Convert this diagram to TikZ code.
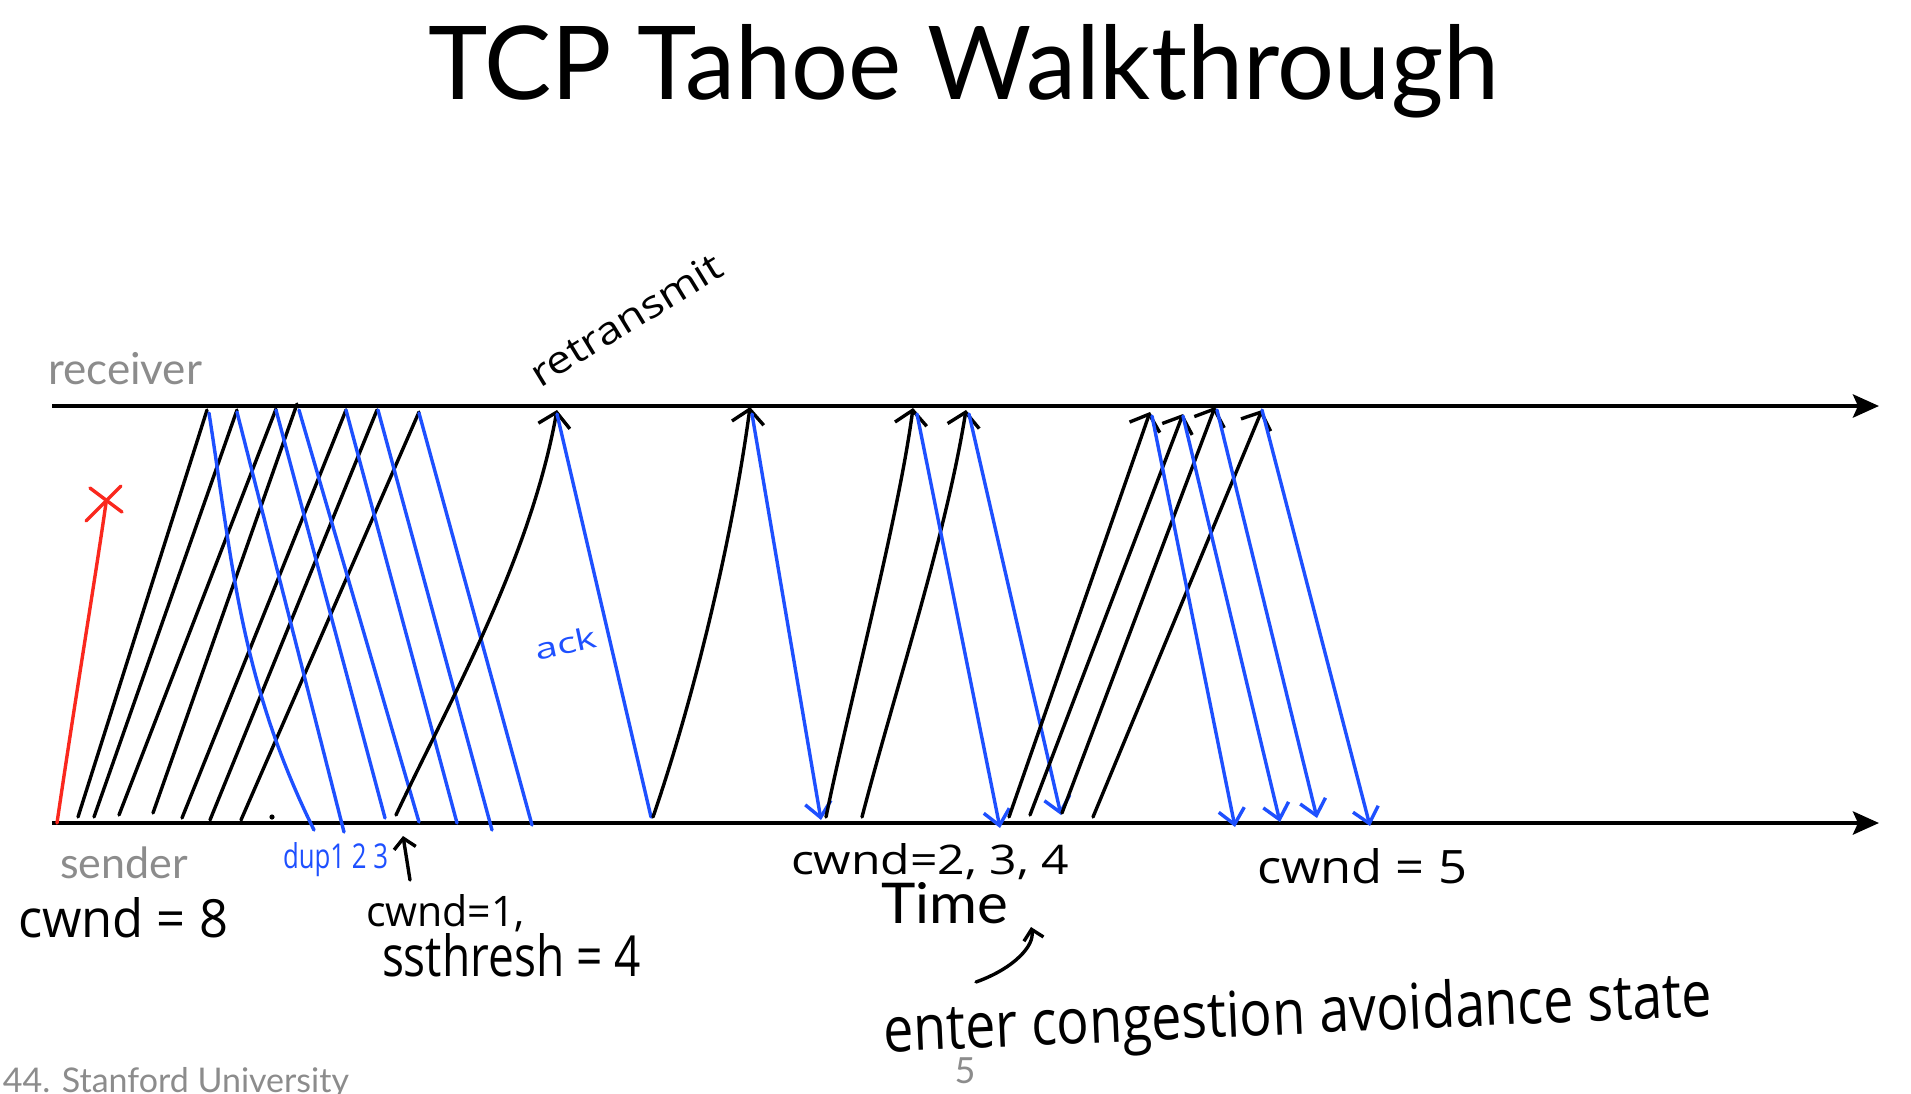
\documentclass[tikz,border=0pt]{standalone}
\usepackage{fontspec}
\setmainfont{Lato}
\newfontfamily\hwfont{Open Sans}
\usepackage{graphicx}
\usetikzlibrary{arrows.meta}
\definecolor{hblue}{RGB}{30,80,255}
\definecolor{hred}{RGB}{250,40,30}
\definecolor{slgray}{RGB}{140,140,140}
\newcommand{\fitbox}[3]{\resizebox{#1pt}{#2pt}{#3}}
\begin{document}
\begin{tikzpicture}[x=1pt,y=-1pt,
  hand/.style={line width=3.4pt, line cap=round, line join=round},
  pkt/.style={hand, black},
  ackl/.style={hand, hblue},
  upa/.style={-{Straight Barb[length=14pt,width=32pt]}},
  dna/.style={-{Straight Barb[length=15pt,width=26pt]}},
  axis/.style={line width=4.6pt, -{Stealth[length=26pt,width=23pt,inset=5pt]}},
  lbl/.style={inner sep=0pt, outer sep=0pt, anchor=base west},
  hw/.style={lbl, font=\hwfont},
  slide/.style={lbl, text=slgray}]
\useasboundingbox (0,0) rectangle (1911,1093);
\fill[white] (0,0) rectangle (1911,1093);
\begin{scope}
\clip (0,0) rectangle (1911,1093);

% title
\node[lbl] (title) at (428,99) {\fitbox{1070}{75}{TCP Tahoe Walkthrough}};

% axes
\coordinate (rl) at (52,406); \coordinate (rr) at (1879,406);
\coordinate (sl) at (52,823); \coordinate (sr) at (1879,823);
\draw[axis] (rl) -- (rr);
\draw[axis] (sl) -- (sr);

\node[slide, font=\fontsize{44}{44}\selectfont] (recv) at (48,384) {receiver};
\node[slide, font=\fontsize{43}{43}\selectfont] (send) at (60,878) {sender};
\node[lbl, font=\fontsize{57}{57}\selectfont] (time) at (881,923) {\fitbox{127}{41}{Time}};
\node[slide, font=\fontsize{36}{36}\selectfont, anchor=base] (pnum) at (965,1083) {5};
\node[slide, anchor=base east, font=\fontsize{34}{34}\selectfont] (foot) at (349,1092) {44. Stanford University};

% lost packet
\coordinate (red0) at (57,823); \coordinate (redx) at (106,503);
\draw[hand, hred] (red0) .. controls (75,700) and (95,580) .. (redx);
\draw[hand, hred] (90,488) -- (122,512);
\draw[hand, hred] (121,486) -- (86,521);

% first burst of data
\foreach \i/\sx/\sy/\rx/\ry in {1/78/817/207/410, 2/94/817/237/410, 3/119/815/276/409, 4/153/813/297/404, 5/182/818/346/410, 6/210/820/377/410, 7/241/820/419/412} {
  \coordinate (ps\i) at (\sx,\sy); \coordinate (pr\i) at (\rx,\ry);
  \draw[pkt] (ps\i) -- (pr\i);
}
\fill (272,817) circle (2.6pt);

% duplicate acks
\coordinate (ar1) at (209,413); \coordinate (as1) at (314,830);
\draw[ackl] (ar1) .. controls (232,560) and (240,680) .. (as1);
\foreach \i/\rx/\ry/\sx/\sy in {2/237/412/344/832, 3/276/410/385/818, 4/299/410/419/822, 5/346/410/457/823, 6/378/410/492/830, 7/419/413/532/825} {
  \coordinate (ar\i) at (\rx,\ry); \coordinate (as\i) at (\sx,\sy);
  \draw[ackl] (ar\i) -- (as\i);
}

% retransmission and ack
\coordinate (rts) at (396,815); \coordinate (rtr) at (557,410);
\draw[pkt, upa] (rts) .. controls (450,700) and (530,560) .. (rtr);
\coordinate (k1r) at (557,414); \coordinate (k1s) at (651,817);
\draw[ackl] (k1r) -- (k1s);

% cwnd = 1 round
\coordinate (c1s) at (653,817); \coordinate (c1r) at (750,407);
\draw[pkt, upa] (c1s) .. controls (700,680) and (735,520) .. (c1r);
\coordinate (k2r) at (752,414); \coordinate (k2s) at (821,820);
\draw[ackl, dna] (k2r) -- (k2s);

% cwnd = 2 round
\coordinate (c2s) at (826,817); \coordinate (c2r) at (913,408);
\draw[pkt, upa] (c2s) .. controls (850,700) and (898,520) .. (c2r);
\coordinate (c3s) at (862,817); \coordinate (c3r) at (966,410);
\draw[pkt, upa] (c3s) .. controls (895,690) and (945,540) .. (c3r);
\coordinate (k3r) at (917,414); \coordinate (k3s) at (1000,828);
\draw[ackl, dna] (k3r) -- (k3s);
\coordinate (k4r) at (969,414); \coordinate (k4s) at (1061,815);
\draw[ackl, dna] (k4r) -- (k4s);

% cwnd = 4 round
\foreach \i/\sx/\sy/\rx/\ry in {1/1009/817/1150/412, 2/1030/815/1183/414, 3/1062/813/1215/407, 4/1093/817/1262/410} {
  \coordinate (ds\i) at (\sx,\sy); \coordinate (dr\i) at (\rx,\ry);
  \draw[pkt, upa] (ds\i) -- (dr\i);
}
\foreach \i/\rx/\ry/\sx/\sy in {1/1152/416/1235/827, 2/1183/416/1280/822, 3/1217/410/1317/818, 4/1262/410/1370/826} {
  \coordinate (er\i) at (\rx,\ry); \coordinate (es\i) at (\sx,\sy);
  \draw[ackl, dna] (er\i) -- (es\i);
}

% handwritten labels
\node[hw, rotate=31.5] (retx) at (540,388) {\fitbox{218}{28}{retransmit}};
\node[hw, rotate=12, text=hblue] (ack) at (537,660) {\fitbox{63}{22}{ack}};
\node[hw, text=hblue] (dup) at (283,868) {\fitbox{105}{26}{dup1 2 3}};
\coordinate (dupa0) at (410,880); \coordinate (dupa1) at (403,836);
\draw[pkt, -{Straight Barb[length=10pt,width=22pt]}] (dupa0) -- (dupa1);
\node[hw] (cw8) at (18,937) {\fitbox{210}{40}{cwnd = 8}};
\node[hw] (cw1) at (366,926) {\fitbox{159}{32}{cwnd=1,}};
\node[hw] (ssth) at (382,976) {\fitbox{259}{43}{ssthresh = 4}};
\node[hw] (cw234) at (791,874) {\fitbox{278}{31}{cwnd=2, 3, 4}};
\node[hw] (cw5) at (1257,883) {\fitbox{210}{35}{cwnd = 5}};
\node[hw, rotate=2.5] (enter) at (884,1052) {\fitbox{829}{48}{enter congestion avoidance state}};
\coordinate (ca0) at (976,982); \coordinate (ca1) at (1031,927);
\draw[pkt, -{Straight Barb[length=10pt,width=20pt]}] (ca0) .. controls (1015,968) and (1035,945) .. (ca1);
\end{scope}
\end{tikzpicture}
\end{document}
